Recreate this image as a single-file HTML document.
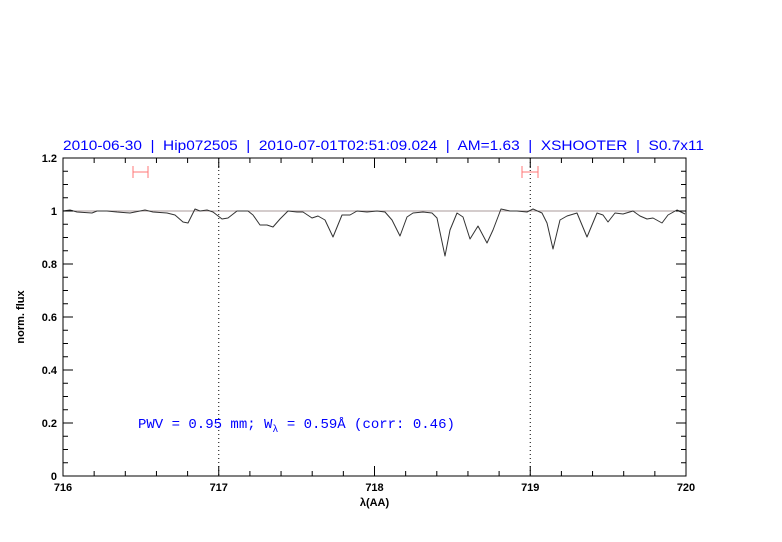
<!DOCTYPE html>
<html><head><style>body{margin:0;background:#fff}svg{display:block}</style></head><body>
<svg width="782" height="542" xmlns="http://www.w3.org/2000/svg" font-family="Liberation Sans, sans-serif">
<rect width="782" height="542" fill="#fff"/>
<text x="63" y="150" fill="#0000ff" font-size="13.5" textLength="641" lengthAdjust="spacingAndGlyphs" font-family="Liberation Sans, sans-serif" style="white-space:pre">2010-06-30  |  Hip072505  |  2010-07-01T02:51:09.024  |  AM=1.63  |  XSHOOTER  |  S0.7x11</text>
<line x1="63" y1="211" x2="686" y2="211" stroke="#a99" stroke-width="1"/>
<line x1="218.75" y1="158" x2="218.75" y2="476" stroke="#000" stroke-dasharray="1,3"/>
<line x1="530.25" y1="158" x2="530.25" y2="476" stroke="#000" stroke-dasharray="1,3"/>
<g stroke="#f77" stroke-width="1"><line x1="133" y1="172" x2="148" y2="172"/><line x1="133" y1="166" x2="133" y2="178"/><line x1="148" y1="166" x2="148" y2="178"/>
<line x1="522" y1="172" x2="538" y2="172"/><line x1="522" y1="166" x2="522" y2="178"/><line x1="538" y1="166" x2="538" y2="178"/></g>
<polyline fill="none" stroke="#333" stroke-width="1" stroke-linejoin="round" points="63,211 70,210 77,212 92,213 97,211 107,211 117,212 130,213 145,210 153,212 167,213 175,215 183,222 188,223 195,209 200,211 207,210 213,212 222,219 228,218 237,211 243,211 248,211 253,215 260,225 267,225 273,227 280,219 288,211 297,212 303,212 312,218 318,216 325,220 333,237 342,215 350,215 357,211 367,212 377,211 385,212 392,220 400,236 407,217 413,213 423,212 432,213 437,218 445,256 450,230 457,213 463,217 470,239 478,226 487,243 493,230 501,209 510,211 517,211 527,212 533,209 542,213 547,223 553,249 560,220 567,216 577,213 587,237 597,213 603,215 608,222 615,213 623,214 633,211 640,216 647,219 653,218 662,223 668,215 677,210 685,214"/>
<rect x="63" y="158" width="623" height="318" fill="none" stroke="#000" stroke-width="1"/>
<g stroke="#000" stroke-width="1">
<path d="M63,476v-10M218.75,476v-10M374.5,476v-10M530.25,476v-10M686,476v-10M63,158v10M218.75,158v10M374.5,158v10M530.25,158v10M686,158v10"/>
<path d="M94.15,476v-5M125.3,476v-5M156.45,476v-5M187.6,476v-5M249.9,476v-5M281.05,476v-5M312.2,476v-5M343.35,476v-5M405.65,476v-5M436.8,476v-5M467.95,476v-5M499.1,476v-5M561.4,476v-5M592.55,476v-5M623.7,476v-5M654.85,476v-5
M94.15,158v5M125.3,158v5M156.45,158v5M187.6,158v5M249.9,158v5M281.05,158v5M312.2,158v5M343.35,158v5M405.65,158v5M436.8,158v5M467.95,158v5M499.1,158v5M561.4,158v5M592.55,158v5M623.7,158v5M654.85,158v5"/>
<path d="M63,476h10M63,423h10M63,370h10M63,317h10M63,264h10M63,211h10M63,158h10M686,476h-10M686,423h-10M686,370h-10M686,317h-10M686,264h-10M686,211h-10M686,158h-10"/>
<path d="M63,462.75h5M63,449.5h5M63,436.25h5M63,409.75h5M63,396.5h5M63,383.25h5M63,356.75h5M63,343.5h5M63,330.25h5M63,303.75h5M63,290.5h5M63,277.25h5M63,250.75h5M63,237.5h5M63,224.25h5M63,197.75h5M63,184.5h5M63,171.25h5
M686,462.75h-5M686,449.5h-5M686,436.25h-5M686,409.75h-5M686,396.5h-5M686,383.25h-5M686,356.75h-5M686,343.5h-5M686,330.25h-5M686,303.75h-5M686,290.5h-5M686,277.25h-5M686,250.75h-5M686,237.5h-5M686,224.25h-5M686,197.75h-5M686,184.5h-5M686,171.25h-5"/>
</g>
<g font-size="11" fill="#000" text-anchor="middle" font-weight="bold">
<text x="63" y="491">716</text><text x="218.75" y="491">717</text><text x="374.5" y="491">718</text><text x="530.25" y="491">719</text><text x="686" y="491">720</text>
<text x="374.5" y="506">λ(AA)</text>
</g>
<g font-size="11" fill="#000" text-anchor="end" font-weight="bold">
<text x="57" y="480">0</text><text x="57" y="427">0.2</text><text x="57" y="374">0.4</text><text x="57" y="321">0.6</text><text x="57" y="268">0.8</text><text x="57" y="215">1</text><text x="57" y="162">1.2</text>
</g>
<text transform="translate(24,317) rotate(-90)" font-size="11" font-weight="bold" text-anchor="middle">norm. flux</text>
<text x="138" y="428" fill="#0000ff" font-size="14" font-family="Liberation Mono, monospace">PWV = 0.95 mm; W<tspan font-size="10" dy="4">λ</tspan><tspan dy="-4"> = 0.59Å (corr: 0.46)</tspan></text>
</svg>
</body></html>
